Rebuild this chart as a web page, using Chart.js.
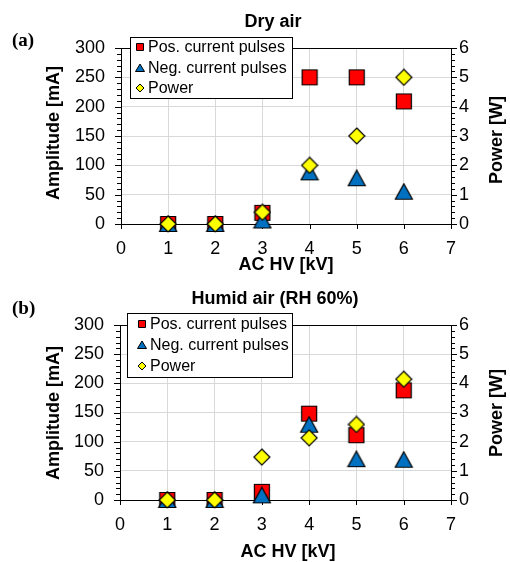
<!DOCTYPE html>
<html><head><meta charset="utf-8">
<script src="https://cdn.jsdelivr.net/npm/chart.js@4/dist/chart.umd.min.js"></script>
<style>
html,body{margin:0;padding:0;background:#fff;}
#wrap{position:relative;width:510px;height:562px;overflow:hidden;}
canvas{position:absolute;left:0;}
</style></head><body>
<div id="wrap">
<canvas id="c1" width="510" height="280" style="top:0"></canvas>
<canvas id="c2" width="510" height="292" style="top:270px"></canvas>
</div>
<script>
// ---- data ----
const voltages = [1, 2, 3, 4, 5, 6];
const dryPos = [0, 0, 19, 250, 250, 209];
const dryNeg = [0, 0, 6, 88, 78, 55];
const dryPower = [0, 0, 0.4, 2, 3, 5];
const humidPos = [0, 0, 14, 148, 111, 188];
const humidNeg = [0, 0, 8, 129, 70, 69];
const humidPower = [0, 0, 1.47, 2.13, 2.59, 4.14];
const seriesLabels = ['Pos. current pulses', 'Neg. current pulses', 'Power'];
const xTicks = [0, 1, 2, 3, 4, 5, 6, 7];

const SANS = '"Liberation Sans", Arial, sans-serif';
const SERIF = '"Liberation Serif", "Times New Roman", serif';
const RED = '#FF0000', BLUE = '#0070C0', YELLOW = '#FFFF00';

function marker(kind, w, h, fill) {
  const c = document.createElement('canvas');
  c.width = w + 2; c.height = h + 2;
  const g = c.getContext('2d');
  g.fillStyle = fill; g.strokeStyle = '#000'; g.lineWidth = 1.2;
  g.beginPath();
  if (kind === 'square') { g.rect(1.5, 1.5, w - 1, h - 1); }
  else if (kind === 'tri') { g.moveTo(1 + w / 2, 1); g.lineTo(1 + w - 0.5, 1 + h - 0.5); g.lineTo(1.5, 1 + h - 0.5); g.closePath(); }
  else { g.moveTo(1 + w / 2, 1); g.lineTo(1 + w, 1 + h / 2); g.lineTo(1 + w / 2, 1 + h); g.lineTo(1, 1 + h / 2); g.closePath(); }
  g.fill(); g.stroke();
  return c;
}
const imgSquare = marker('square', 16, 16, RED);
const imgTri = marker('tri', 18, 16, BLUE);
const imgDia = marker('dia', 16, 16, YELLOW);

function pts(arr) { return voltages.map((v, i) => ({ x: v, y: arr[i] })); }

function drawLegendMarker(ctx, kind, x, y, fill) {
  ctx.save();
  ctx.fillStyle = fill; ctx.strokeStyle = '#000'; ctx.lineWidth = 1;
  ctx.beginPath();
  if (kind === 'square') ctx.rect(x - 3.5, y - 3.5, 7, 7);
  else if (kind === 'tri') { ctx.moveTo(x, y - 4); ctx.lineTo(x + 4.5, y + 3.5); ctx.lineTo(x - 4.5, y + 3.5); ctx.closePath(); }
  else { ctx.moveTo(x, y - 4); ctx.lineTo(x + 4, y); ctx.lineTo(x, y + 4); ctx.lineTo(x - 4, y); ctx.closePath(); }
  ctx.fill(); ctx.stroke();
  ctx.restore();
}

const decor = {
  id: 'decor',
  beforeDatasetsDraw(chart) {
    const { ctx, chartArea: a, scales } = chart;
    ctx.save();
    ctx.strokeStyle = '#000'; ctx.lineWidth = 1;
    ctx.beginPath();
    const top = Math.round(a.top) + 0.5;
    ctx.moveTo(a.left, top); ctx.lineTo(a.right, top);
    for (let v = 0; v <= 300; v += 10) {
      const y = Math.round(scales.y.getPixelForValue(v)) + 0.5;
      const len = v % 50 === 0 ? 6 : 4;
      ctx.moveTo(a.left - len, y); ctx.lineTo(a.left, y);
    }
    for (let k = 0; k <= 30; k++) {
      const y = Math.round(scales.y2.getPixelForValue(k / 5)) + 0.5;
      const len = k % 5 === 0 ? 6 : 4;
      ctx.moveTo(a.right, y); ctx.lineTo(a.right + len, y);
    }
    xTicks.forEach(t => {
      const x = Math.round(scales.x.getPixelForValue(t)) + 0.5;
      ctx.moveTo(x, a.bottom); ctx.lineTo(x, a.bottom + 5);
    });
    ctx.stroke();
    ctx.restore();
  },
  afterDraw(chart) {
    const { ctx } = chart;
    const o = chart.options.plugins.decor;
    ctx.save();
    ctx.fillStyle = '#000';
    ctx.textAlign = 'center'; ctx.textBaseline = 'middle';
    ctx.font = 'bold 18px ' + SANS;
    ctx.fillText(o.title, o.titleX, o.titleY);
    ctx.fillText('AC HV [kV]', o.xTitleX, o.xTitleY);
    ctx.save(); ctx.translate(o.yTitleX, o.yTitleY); ctx.rotate(-Math.PI / 2);
    ctx.fillText('Amplitude [mA]', 0, 0); ctx.restore();
    ctx.save(); ctx.translate(o.y2TitleX, o.y2TitleY); ctx.rotate(-Math.PI / 2);
    ctx.fillText('Power [W]', 0, 0); ctx.restore();
    ctx.font = 'bold 19px ' + SERIF;
    ctx.textAlign = 'left';
    ctx.fillText(o.panel, 12, o.panelY);
    // legend
    const L = o.legend;
    ctx.fillStyle = '#fff';
    ctx.fillRect(L.x, L.y, L.w, L.h);
    ctx.strokeStyle = '#000'; ctx.lineWidth = 1;
    ctx.strokeRect(L.x + 0.5, L.y + 0.5, L.w, L.h);
    ctx.font = '16px ' + SANS;
    ctx.textBaseline = 'middle';
    chart.data.datasets.forEach((ds, i) => {
      const y = L.rows[i];
      drawLegendMarker(ctx, ds.kind, L.mx, y, ds.backgroundColor);
      ctx.fillStyle = '#000';
      ctx.fillText(ds.label, L.tx, y + 1);
    });
    ctx.restore();
  }
};

function makeChart(id, pos, neg, pow, lay) {
  return new Chart(document.getElementById(id), {
    type: 'scatter',
    data: {
      datasets: [
        { label: seriesLabels[0], kind: 'square', data: pts(pos), yAxisID: 'y', pointStyle: imgSquare, backgroundColor: RED, order: 3, clip: false },
        { label: seriesLabels[1], kind: 'tri', data: pts(neg), yAxisID: 'y', pointStyle: imgTri, backgroundColor: BLUE, order: 2, clip: false },
        { label: seriesLabels[2], kind: 'dia', data: pts(pow), yAxisID: 'y2', pointStyle: imgDia, backgroundColor: YELLOW, order: 1, clip: false }
      ]
    },
    options: {
      responsive: false, animation: false, events: [],
      layout: { padding: { top: lay.top, left: 0, right: 0, bottom: 0 } },
      plugins: { legend: { display: false }, tooltip: { enabled: false }, decor: lay.decor },
      scales: {
        x: {
          type: 'linear', min: 0, max: 7,
          afterBuildTicks: s => { s.ticks = xTicks.map(v => ({ value: v })); },
          afterFit: s => { s.height = lay.H - lay.bottom; },
          grid: { color: '#d9d9d9', drawTicks: false },
          border: { color: '#000' },
          ticks: { color: '#000', font: { family: SANS, size: 18 }, padding: lay.xPad }
        },
        y: {
          position: 'left', min: 0, max: 300,
          ticks: { stepSize: 50, color: '#000', font: { family: SANS, size: 18 }, padding: 16 },
          afterFit: s => { s.width = lay.left; },
          grid: { color: '#d9d9d9', drawTicks: false },
          border: { color: '#000' }
        },
        y2: {
          position: 'right', min: 0, max: 6,
          ticks: { stepSize: 1, color: '#000', font: { family: SANS, size: 18 }, padding: 8 },
          afterFit: s => { s.width = 510 - lay.right; },
          grid: { drawOnChartArea: false, drawTicks: false },
          border: { color: '#000' }
        }
      }
    },
    plugins: [decor]
  });
}

makeChart('c1', dryPos, dryNeg, dryPower, {
  H: 280, top: 48, bottom: 224, left: 121, right: 451, xPad: 14,
  decor: {
    title: 'Dry air', titleX: 273, titleY: 22, panel: '(a)', panelY: 41,
    xTitleX: 286, xTitleY: 265, yTitleX: 54, yTitleY: 133, y2TitleX: 497, y2TitleY: 140,
    legend: { x: 130, y: 37, w: 162, h: 61, mx: 140, tx: 148, rows: [47, 68, 88] }
  }
});
makeChart('c2', humidPos, humidNeg, humidPower, {
  H: 292, top: 55, bottom: 230, left: 120, right: 451, xPad: 14,
  decor: {
    title: 'Humid air (RH 60%)', titleX: 275, titleY: 29, panel: '(b)', panelY: 39,
    xTitleX: 288, xTitleY: 282, yTitleX: 54, yTitleY: 143, y2TitleX: 497, y2TitleY: 143,
    legend: { x: 127, y: 43, w: 165, h: 64, mx: 142, tx: 150, rows: [54, 75, 96] }
  }
});
</script>
</body></html>
